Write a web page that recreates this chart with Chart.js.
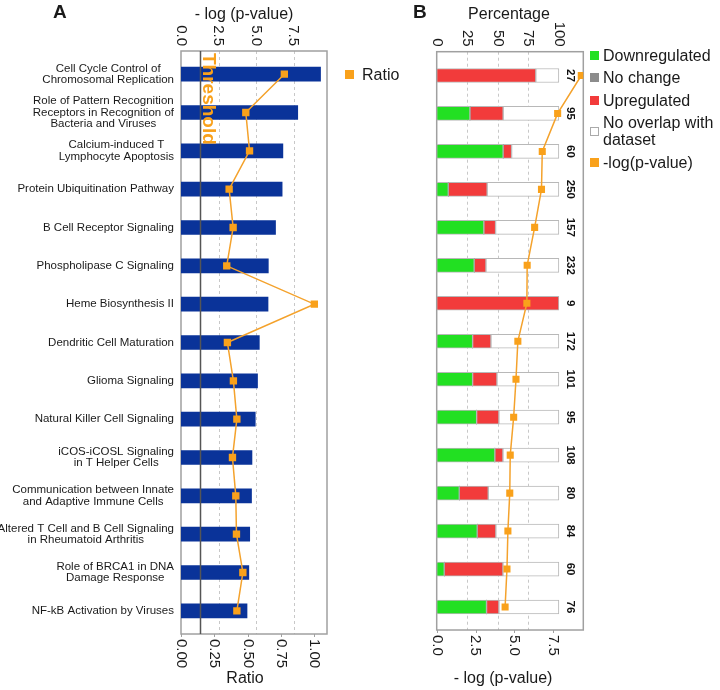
<!DOCTYPE html>
<html>
<head>
<meta charset="utf-8">
<title>Pathways</title>
<script src="https://cdn.jsdelivr.net/npm/chart.js@4.4.1/dist/chart.umd.min.js"></script>
<style>
    body { margin: 0; background: #fff; font-family: "Liberation Sans", Arial, sans-serif; color: #1a1a1a; }
    #page { position: relative; width: 720px; height: 690px; overflow: hidden; }
    canvas { position: absolute; top: 0; display: block; }
    #chartA { left: 0; }
    #chartB { left: 420px; }
    .panel-tag { position: absolute; font-weight: bold; font-size: 19px; line-height: 19px; }
    .legend { position: absolute; font-size: 16px; line-height: 17px; }
    .legend-item { display: flex; align-items: center; margin-bottom: 5.5px; }
    .legend-box { width: 9px; height: 9px; box-sizing: border-box; flex: none; }
    #legendA { left: 345px; top: 65.5px; }
    #legendA .legend-box { margin-right: 8px; }
    #legendB { left: 590px; top: 46.5px; }
    #legendB .legend-box { margin-right: 4px; }
    #legendB .legend-text { width: 117px; }
</style>
</head>
<body>
<div id="page">
    <canvas id="chartA" width="340" height="690"></canvas>
    <canvas id="chartB" width="180" height="690"></canvas>
    <div class="panel-tag" style="left:53px;top:1.5px">A</div>
    <div class="panel-tag" style="left:413px;top:1.5px">B</div>
    <div id="legendA" class="legend"></div>
    <div id="legendB" class="legend"></div>
</div>
<script>
// Дані

const pathways = [
    ['Cell Cycle Control of', 'Chromosomal Replication'],
    ['Role of Pattern Recognition', 'Receptors in Recognition of', 'Bacteria and Viruses'],
    ['Calcium-induced T', 'Lymphocyte Apoptosis'],
    'Protein Ubiquitination Pathway',
    'B Cell Receptor Signaling',
    'Phospholipase C Signaling',
    'Heme Biosynthesis II',
    'Dendritic Cell Maturation',
    'Glioma Signaling',
    'Natural Killer Cell Signaling',
    ['iCOS-iCOSL Signaling', 'in T Helper Cells'],
    ['Communication between Innate', 'and Adaptive Immune Cells'],
    ['Altered T Cell and B Cell Signaling', 'in Rheumatoid Arthritis'],
    ['Role of BRCA1 in DNA', 'Damage Response'],
    'NF-kB Activation by Viruses'
];

// -log(p-value)
const negLogP = [9.3, 7.78, 6.79, 6.74, 6.3, 5.82, 5.8, 5.22, 5.1, 4.95, 4.73, 4.7, 4.58, 4.52, 4.4];
const ratio = [0.775, 0.486, 0.514, 0.361, 0.391, 0.343, 1.0, 0.348, 0.393, 0.419, 0.386, 0.411, 0.416, 0.464, 0.419];
const thresholdP = 1.3;

// Panel B, %
const geneCounts = [27, 95, 60, 250, 157, 232, 9, 172, 101, 95, 108, 80, 84, 60, 76];
const downPct = [0, 27.2, 54.4, 9.5, 38.6, 30.7, 0, 29.4, 29.4, 32.7, 47.6, 18.5, 33.2, 6.2, 40.8];
const noChangePct = [0, 0, 0, 0, 0, 0, 0, 0, 0, 0, 0, 0, 0, 0, 0];
const upPct = [81.1, 27.2, 6.9, 31.8, 9.6, 9.6, 100, 15.0, 19.9, 18.2, 6.6, 23.7, 15.2, 48.0, 10.1];
const noOverlapPct = [18.9, 45.6, 38.7, 58.7, 51.8, 59.7, 0, 55.6, 50.7, 49.1, 45.8, 57.8, 51.6, 45.8, 49.1];

const FONT = '"Liberation Sans", Arial, sans-serif';
const TEXT = '#1a1a1a';
const FRAME = '#a0a0a0';
const GRID = '#c8c8c8';
const BLUE = '#0a3399';
const GREEN = '#22e022';
const RED = '#f23b3b';
const GRAY = '#8c8c8c';
const WHITE = '#ffffff';
const BAR_EDGE = '#b8b8b8';
const ORANGE = '#f9a11b';
const ORANGE_LINE = '#f4a22c';

Chart.defaults.font.family = FONT;

// Рамка, сітка, повернуті підписи осей
function framePlugin(cfg) {
    return {
        id: 'frame',
        beforeDatasetsDraw(chart) {
            const ctx = chart.ctx;
            const a = chart.chartArea;
            const top = a.top - cfg.padTop;
            const bottom = a.bottom + cfg.padBottom;
            const gs = chart.scales[cfg.topAxis];
            ctx.save();
            ctx.strokeStyle = GRID;
            ctx.lineWidth = 1;
            ctx.setLineDash([3, 3]);
            gs.ticks.forEach(t => {
                if (t.value <= 0 || t.value >= cfg.gridLimit) return;
                const x = Math.round(gs.getPixelForValue(t.value)) + 0.5;
                ctx.beginPath();
                ctx.moveTo(x, top);
                ctx.lineTo(x, bottom);
                ctx.stroke();
            });
            ctx.setLineDash([]);
            ctx.strokeStyle = FRAME;
            ctx.lineWidth = 1.5;
            ctx.strokeRect(a.left, top, a.right - a.left, bottom - top);
            ctx.restore();
        },
        afterDatasetsDraw(chart) {
            const ctx = chart.ctx;
            const a = chart.chartArea;
            const top = a.top - cfg.padTop;
            const bottom = a.bottom + cfg.padBottom;
            const ts = chart.scales[cfg.topAxis];
            const bs = chart.scales[cfg.bottomAxis];
            ctx.save();
            // риски нижньої осі
            ctx.strokeStyle = FRAME;
            ctx.lineWidth = 1;
            bs.ticks.forEach(t => {
                const x = Math.round(bs.getPixelForValue(t.value)) + 0.5;
                ctx.beginPath();
                ctx.moveTo(x, bottom);
                ctx.lineTo(x, bottom + 3);
                ctx.stroke();
            });
            ctx.font = '15px ' + FONT;
            ctx.fillStyle = TEXT;
            ctx.textBaseline = 'middle';
            const rotLabel = (txt, x, y, align) => {
                ctx.save();
                ctx.translate(x, y);
                ctx.rotate(Math.PI / 2);
                ctx.textAlign = align;
                ctx.fillText(txt, 0, 0);
                ctx.restore();
            };
            ts.ticks.forEach(t => rotLabel(t.value.toFixed(cfg.topDigits), ts.getPixelForValue(t.value), top - 5, 'right'));
            bs.ticks.forEach(t => rotLabel(t.value.toFixed(cfg.bottomDigits), bs.getPixelForValue(t.value), bottom + 5, 'left'));
            // назви осей
            ctx.font = '16px ' + FONT;
            ctx.textAlign = 'center';
            const cx = (a.left + a.right) / 2;
            ctx.fillText(cfg.topTitle, cx + cfg.topTitleDx, 15);
            ctx.fillText(cfg.bottomTitle, cx + cfg.bottomTitleDx, 679);
            ctx.restore();
            if (cfg.extra) cfg.extra(chart, top, bottom);
        }
    };
}

function buildLegend(chart, elId, indices) {
    const el = document.getElementById(elId);
    indices.forEach(i => {
        const ds = chart.data.datasets[i];
        const item = document.createElement('div');
        item.className = 'legend-item';
        const box = document.createElement('span');
        box.className = 'legend-box';
        const fill = ds.type === 'line' ? ds.pointBackgroundColor : ds.backgroundColor;
        box.style.background = fill;
        if (fill === WHITE) box.style.border = '1px solid #aaa';
        const txt = document.createElement('span');
        txt.className = 'legend-text';
        txt.textContent = ds.label;
        item.appendChild(box);
        item.appendChild(txt);
        el.appendChild(item);
    });
}

// Панель A
const chartA = new Chart(document.getElementById('chartA'), {
    type: 'bar',
    data: {
        labels: pathways,
        datasets: [
            {
                type: 'line',
                label: 'Ratio',
                data: ratio,
                xAxisID: 'xBottom',
                yAxisID: 'y',
                borderColor: ORANGE_LINE,
                borderWidth: 1.5,
                pointStyle: 'rect',
                pointRadius: 5.2,
                pointBackgroundColor: ORANGE,
                pointBorderColor: ORANGE,
                pointBorderWidth: 0,
                tension: 0,
                fill: false,
                order: 0
            },
            {
                label: '-log(p-value)',
                data: negLogP,
                xAxisID: 'xTop',
                yAxisID: 'y',
                backgroundColor: BLUE,
                barThickness: 14,
                order: 1
            }
        ]
    },
    options: {
        indexAxis: 'y',
        responsive: false,
        animation: false,
        layout: { padding: { left: 0, right: 13, top: 0, bottom: 0 } },
        plugins: { legend: { display: false }, tooltip: { enabled: false } },
        scales: {
            y: {
                type: 'category',
                offset: true,
                grid: { display: false },
                border: { display: false },
                ticks: { display: false },
                afterFit: s => { s.width = 181; }
            },
            xTop: {
                type: 'linear',
                position: 'top',
                min: 0,
                max: 9.73,
                ticks: { display: false, stepSize: 2.5, includeBounds: false },
                grid: { display: false },
                border: { display: false },
                afterFit: s => { s.height = 55; }
            },
            xBottom: {
                type: 'linear',
                position: 'bottom',
                min: 0,
                max: 1.095,
                ticks: { display: false, stepSize: 0.25, includeBounds: false },
                grid: { display: false },
                border: { display: false },
                afterFit: s => { s.height = 60; }
            }
        }
    },
    plugins: [framePlugin({
        padTop: 4,
        padBottom: 4,
        topAxis: 'xTop',
        bottomAxis: 'xBottom',
        gridLimit: 9.73,
        topDigits: 1,
        bottomDigits: 2,
        topTitle: '- log (p-value)',
        topTitleDx: -10,
        bottomTitle: 'Ratio',
        bottomTitleDx: -9,
        extra(chart, top, bottom) {
            const ctx = chart.ctx;
            const ys = chart.scales.y;
            const xs = chart.scales.xTop;
            ctx.save();
            // поріг
            const tx = xs.getPixelForValue(thresholdP);
            ctx.strokeStyle = '#555';
            ctx.lineWidth = 1.5;
            ctx.beginPath();
            ctx.moveTo(tx, top);
            ctx.lineTo(tx, bottom);
            ctx.stroke();
            ctx.save();
            ctx.fillStyle = ORANGE;
            ctx.font = 'bold 19px ' + FONT;
            ctx.translate(tx + 2, top + 2);
            ctx.rotate(Math.PI / 2);
            ctx.textAlign = 'left';
            ctx.textBaseline = 'alphabetic';
            ctx.fillText('Threshold', 0, 0);
            ctx.restore();
            // назви шляхів
            ctx.font = '11.5px ' + FONT;
            ctx.fillStyle = TEXT;
            ctx.textAlign = 'center';
            ctx.textBaseline = 'middle';
            const right = chart.chartArea.left - 7;
            const lh = 11.5;
            chart.data.labels.forEach((lab, i) => {
                const lines = Array.isArray(lab) ? lab : [lab];
                const w = Math.max(...lines.map(s => ctx.measureText(s).width));
                const y0 = ys.getPixelForTick(i) - (lines.length - 1) * lh / 2;
                lines.forEach((s, j) => ctx.fillText(s, right - w / 2, y0 + j * lh));
            });
            ctx.restore();
        }
    })]
});

// Панель B
const chartB = new Chart(document.getElementById('chartB'), {
    type: 'bar',
    data: {
        labels: pathways,
        datasets: [
            { label: 'Downregulated', data: downPct, backgroundColor: GREEN, borderColor: BAR_EDGE, borderWidth: 1, borderSkipped: false, xAxisID: 'xTop', yAxisID: 'y', barThickness: 14, order: 1 },
            { label: 'No change', data: noChangePct, backgroundColor: GRAY, borderWidth: 0, xAxisID: 'xTop', yAxisID: 'y', barThickness: 14, order: 1 },
            { label: 'Upregulated', data: upPct, backgroundColor: RED, borderColor: BAR_EDGE, borderWidth: 1, borderSkipped: false, xAxisID: 'xTop', yAxisID: 'y', barThickness: 14, order: 1 },
            { label: 'No overlap with dataset', data: noOverlapPct, backgroundColor: WHITE, borderColor: BAR_EDGE, borderWidth: 1, borderSkipped: false, xAxisID: 'xTop', yAxisID: 'y', barThickness: 14, order: 1 },
            {
                type: 'line',
                label: '-log(p-value)',
                data: negLogP,
                xAxisID: 'xBottom',
                yAxisID: 'y',
                borderColor: ORANGE_LINE,
                borderWidth: 1.5,
                pointStyle: 'rect',
                pointRadius: 5,
                pointBackgroundColor: ORANGE,
                pointBorderColor: ORANGE,
                pointBorderWidth: 0,
                tension: 0,
                fill: false,
                order: 0
            }
        ]
    },
    options: {
        indexAxis: 'y',
        responsive: false,
        animation: false,
        layout: { padding: { left: 0, right: 16.7, top: 0, bottom: 0 } },
        plugins: { legend: { display: false }, tooltip: { enabled: false } },
        scales: {
            y: {
                type: 'category',
                offset: true,
                stacked: true,
                grid: { display: false },
                border: { display: false },
                ticks: { display: false },
                afterFit: s => { s.width = 16.7; }
            },
            xTop: {
                type: 'linear',
                position: 'top',
                stacked: true,
                min: 0,
                max: 120,
                ticks: { display: false, stepSize: 25, includeBounds: false },
                grid: { display: false },
                border: { display: false },
                afterFit: s => { s.height = 56.5; }
            },
            xBottom: {
                type: 'linear',
                position: 'bottom',
                min: 0,
                max: 9.43,
                ticks: { display: false, stepSize: 2.5, includeBounds: false },
                grid: { display: false },
                border: { display: false },
                afterFit: s => { s.height = 64; }
            }
        }
    },
    plugins: [framePlugin({
        padTop: 4.8,
        padBottom: 4,
        topAxis: 'xTop',
        bottomAxis: 'xBottom',
        gridLimit: 100,
        topDigits: 0,
        bottomDigits: 1,
        topTitle: 'Percentage',
        topTitleDx: -1,
        bottomTitle: '- log (p-value)',
        bottomTitleDx: -7,
        extra(chart) {
            const ctx = chart.ctx;
            const ys = chart.scales.y;
            const x = chart.scales.xTop.getPixelForValue(109.5);
            ctx.save();
            ctx.font = 'bold 11.5px ' + FONT;
            ctx.fillStyle = '#111';
            ctx.textAlign = 'center';
            ctx.textBaseline = 'middle';
            geneCounts.forEach((n, i) => {
                ctx.save();
                ctx.translate(x, ys.getPixelForTick(i));
                ctx.rotate(Math.PI / 2);
                ctx.fillText(String(n), 0, 0);
                ctx.restore();
            });
            ctx.restore();
        }
    })]
});

buildLegend(chartA, 'legendA', [0]);
buildLegend(chartB, 'legendB', [0, 1, 2, 3, 4]);
</script>
</body>
</html>
